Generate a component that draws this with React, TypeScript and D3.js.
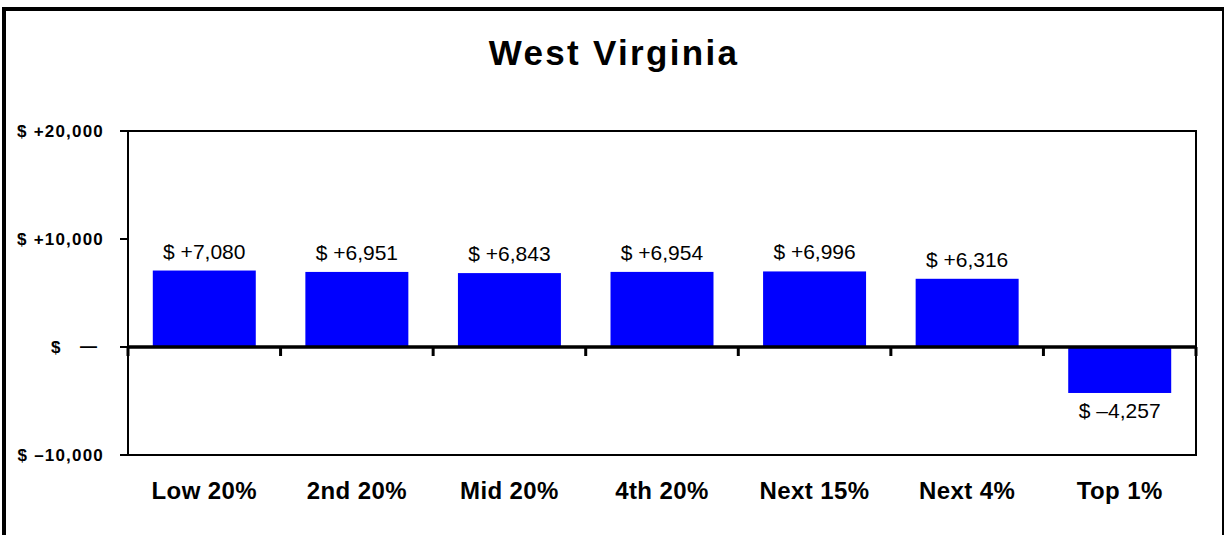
import React from "react";
import * as d3 from "d3";

const title = "West Virginia";
const categories = ["Low 20%", "2nd 20%", "Mid 20%", "4th 20%", "Next 15%", "Next 4%", "Top 1%"];
const values = [7080, 6951, 6843, 6954, 6996, 6316, -4257];
const yTicks = [20000, 10000, 0, -10000];

const W = 1225;
const H = 535;
const FONT = "'Liberation Sans', Arial, Helvetica, sans-serif";

const plot = { left: 128, right: 1196, top: 131, bottom: 455 };

const fmtNum = d3.format(",");
const fmtValue = (v: number) => `$ ${v < 0 ? "\u2013" : "+"}${fmtNum(Math.abs(v))}`;

export default function App() {
  const x = d3
    .scaleBand<string>()
    .domain(categories)
    .range([plot.left, plot.right])
    .paddingInner(0.325)
    .paddingOuter(0.1625);
  const step = (plot.right - plot.left) / categories.length;
  const y = d3.scaleLinear().domain([-10000, 20000]).range([plot.bottom, plot.top]);
  const y0 = y(0);

  const boundaries = d3.range(categories.length + 1).map((i) => plot.left + i * step);

  return (
    <svg
      width={W}
      height={H}
      style={{ position: "absolute", left: 0, top: 0, background: "#fff" }}
      fontFamily={FONT}
    >
      <rect x={0} y={0} width={W} height={H} fill="#fff" />
      {/* outer frame */}
      <line x1={4} y1={7} x2={4} y2={H} stroke="#000" strokeWidth={4} />
      <line x1={2} y1={9} x2={1224} y2={9} stroke="#000" strokeWidth={4} />
      <line x1={1223} y1={7} x2={1223} y2={H} stroke="#000" strokeWidth={2} />

      {/* title */}
      <text
        x={614}
        y={65}
        textAnchor="middle"
        fontSize={35}
        fontWeight="bold"
        letterSpacing={2.3}
      >
        {title}
      </text>

      {/* plot frame */}
      <rect
        x={plot.left}
        y={plot.top}
        width={plot.right - plot.left}
        height={plot.bottom - plot.top}
        fill="none"
        stroke="#000"
        strokeWidth={2}
      />

      {/* bars */}
      {categories.map((c, i) => {
        const v = values[i];
        const top = Math.min(y(v), y0);
        const h = Math.abs(y(v) - y0);
        return (
          <rect key={c} x={x(c)} y={top} width={x.bandwidth()} height={h} fill="#0000FF" />
        );
      })}

      {/* zero line */}
      <line x1={plot.left} x2={plot.right} y1={y0} y2={y0} stroke="#000" strokeWidth={3.5} />
      {boundaries.map((bx, i) => (
        <line key={i} x1={bx} x2={bx} y1={y0} y2={y0 + 9} stroke="#000" strokeWidth={3} />
      ))}

      {/* y ticks */}
      {yTicks.map((t) => (
        <g key={t}>
          <line x1={120} x2={plot.left} y1={y(t)} y2={y(t)} stroke="#000" strokeWidth={2} />
          {t === 0 ? (
            <g fontSize={17} fontWeight="bold">
              <text x={60.5} y={y(t) + 6} textAnchor="end">$</text>
              <text x={97} y={y(t) + 5} textAnchor="end">{"\u2014"}</text>
            </g>
          ) : (
            <text
              x={104}
              y={y(t) + 6}
              textAnchor="end"
              fontSize={17}
              fontWeight="bold"
              letterSpacing={1.2}
            >
              {`$ ${t < 0 ? "\u2013" : "+"}${fmtNum(Math.abs(t))}`}
            </text>
          )}
        </g>
      ))}

      {/* value labels */}
      {categories.map((c, i) => {
        const v = values[i];
        const cx = (x(c) as number) + x.bandwidth() / 2;
        const ly = v >= 0 ? y(v) - 12 : y(v) + 25;
        return (
          <text key={c} x={cx} y={ly} textAnchor="middle" fontSize={21}>
            {fmtValue(v)}
          </text>
        );
      })}

      {/* category labels */}
      {categories.map((c) => (
        <text
          key={c}
          x={(x(c) as number) + x.bandwidth() / 2}
          y={498.5}
          textAnchor="middle"
          fontSize={24}
          fontWeight="bold"
          letterSpacing={0.4}
        >
          {c}
        </text>
      ))}
    </svg>
  );
}
